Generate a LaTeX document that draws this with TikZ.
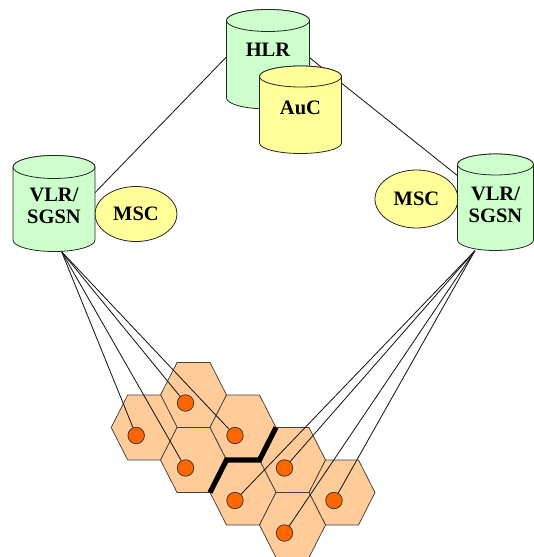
\documentclass[tikz,border=0pt]{standalone}
\usepackage{fontspec}
\setmainfont{Liberation Serif}
\usetikzlibrary{shapes.geometric}

\pgfdeclarelayer{bg}
\pgfsetlayers{bg,main}

\definecolor{dbgreen}{HTML}{CCFFCC}
\definecolor{authyellow}{HTML}{FFFF99}
\definecolor{cellfill}{HTML}{FFCC99}
\definecolor{btsdot}{HTML}{FF6600}

\tikzset{
  outline/.style={draw=black!85, line width=0.8pt},
  dblabel/.style={font=\fontsize{20.5}{22.5}\selectfont\bfseries, align=center, inner sep=0pt},
  link/.style={draw=black!90, line width=0.85pt},
  cell/.style={fill=cellfill, draw=black!75, line width=0.75pt, line join=miter},
  bts/.style={circle, fill=btsdot, draw=black!80, line width=0.75pt, minimum size=16.5pt, inner sep=0pt},
  areaborder/.style={draw=black, line width=5.2pt, line join=miter, line cap=butt},
  mscnode/.style={ellipse, fill=authyellow, outline, inner sep=0pt,
    font=\fontsize{20.5}{22.5}\selectfont\bfseries}
}

% database drum: name, cx, top y, bottom y, rx, ry, fill, text y, label
% (y values are measured downwards from the top edge)
\newcommand\dbdrum[9]{%
  \path[fill=#7, outline] ({#2-#5},{-(#3)}) -- ({#2-#5},{-(#4)})
    arc[start angle=180, end angle=360, x radius=#5pt, y radius=#6pt]
    -- ({#2+#5},{-(#3)})
    arc[start angle=0, end angle=180, x radius=#5pt, y radius=#6pt] -- cycle;
  \path[fill=#7, outline] (#2,{-(#3)}) ellipse[x radius=#5pt, y radius=#6pt];
  \node[inner sep=0pt, minimum width={2*#5 pt}, minimum height={(#4-#3+2*#6)*1pt}]
    (#1) at (#2,{-(#3+#4)/2}) {};
  \node[dblabel] (#1-text) at (#2,{-(#8)}) {#9};
}

% radio cell: centre x, centre y
\newcommand\radiocell[2]{%
  \path[cell] ({#1-33},{-(#2)}) -- ({#1-16.5},{-(#2)+32.5})
    -- ({#1+16.5},{-(#2)+32.5}) -- ({#1+33},{-(#2)})
    -- ({#1+16.5},{-(#2)-32.5}) -- ({#1-16.5},{-(#2)-32.5}) -- cycle;
}

\begin{document}
\begin{tikzpicture}[x=1pt, y=1pt]
  \useasboundingbox (0,0) rectangle (534,-557);

  % core network databases
  \dbdrum{hlr}{268}{20.5}{98}{41.5}{11}{dbgreen}{50}{HLR}
  \dbdrum{auc}{300.5}{76.5}{143}{41}{10.5}{authyellow}{108}{AuC}

  % switching centres
  \node[mscnode, minimum width=82pt, minimum height=55pt] (mscL) at (136,-214) {MSC};
  \node[mscnode, minimum width=83pt, minimum height=58pt] (mscR) at (416.5,-199) {MSC};

  \dbdrum{vlrL}{54}{167}{240}{41}{11.5}{dbgreen}{206}{VLR/\\SGSN}
  \dbdrum{vlrR}{495.5}{164.5}{240}{38}{10.5}{dbgreen}{205}{VLR/\\SGSN}

  % HLR links run behind the drums
  \begin{pgfonlayer}{bg}
    \draw[link] (hlr.177) -- (vlrL.15);
    \draw[link] (hlr.2) -- (vlrR.145);
  \end{pgfonlayer}

  % cell layout
  \radiocell{193.5}{395}
  \radiocell{144.2}{427.5}
  \radiocell{243}{427.5}
  \radiocell{193.5}{460}
  \radiocell{292.5}{460}
  \radiocell{243}{492.5}
  \radiocell{342}{492.5}
  \radiocell{292.5}{525}

  % location area boundary
  \draw[areaborder] (276,-427.5) -- (259.5,-460) -- (226.5,-460) -- (210,-492.5);

  % base stations
  \node[bts] (bts1) at (185.5,-403) {};
  \node[bts] (bts2) at (136.2,-435.5) {};
  \node[bts] (bts3) at (235,-435.5) {};
  \node[bts] (bts4) at (185.5,-468) {};
  \node[bts] (bts5) at (284.5,-468) {};
  \node[bts] (bts6) at (235,-500.5) {};
  \node[bts] (bts7) at (334,-500.5) {};
  \node[bts] (bts8) at (284.5,-533) {};

  % access links
  \foreach \b in {bts1,bts2,bts3,bts4}
    \draw[link] (vlrL.-81) -- (\b);
  \foreach \b in {bts5,bts6,bts7,bts8}
    \draw[link] (vlrR.-113) -- (\b);
\end{tikzpicture}
\end{document}
